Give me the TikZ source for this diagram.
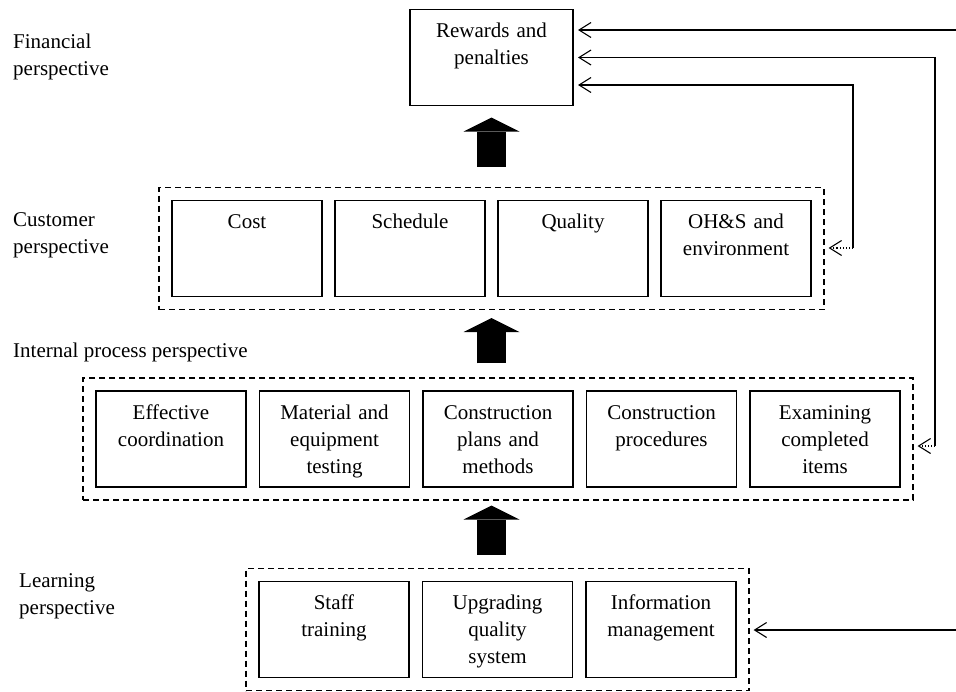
\documentclass[tikz,border=0pt]{standalone}
\usepackage{fontspec}
\setmainfont{Liberation Serif}
\usetikzlibrary{arrows.meta,positioning,fit}

\begin{document}
\begin{tikzpicture}[
  x=1pt, y=-1pt,
  font=\fontsize{21}{27}\selectfont,
  box/.style={draw, line width=1.6pt, align=center, text width=144pt, minimum width=150pt,
    inner xsep=3pt, inner ysep=0pt, outer sep=0pt, text height=28pt, text depth=68pt},
  group/.style={draw, dash pattern=on 6pt off 4pt, line width=1.2pt, inner sep=13pt},
  side/.style={align=left, inner sep=0pt, anchor=west},
  link/.style={line width=1.1pt, -{Straight Barb[length=12pt, width=15pt]}},
  fat/.style={line width=29pt, -{Triangle[length=14pt, width=56pt, line width=0pt]}}
]
\useasboundingbox (0,0) rectangle (956,691);

% side labels
\node[side] (fin) at (13,57) {Financial\\perspective};
\node[side] (cust) at (13,235) {Customer\\perspective};
\node[side] (int) at (13,352) {Internal process perspective};
\node[side] (learn) at (19,596) {Learning\\perspective};

% financial
\node[box, text width=157pt] (reward) at (491.5,57.5) {Rewards and\\penalties};

% customer
\node[box] (cost) at (247,248.5) {Cost};
\node[box, right=13pt of cost] (schedule) {Schedule};
\node[box, right=13pt of schedule] (quality) {Quality};
\node[box, right=13pt of quality] (ohs) {OH\&S and\\environment};

% internal process
\node[box] (coord) at (171,439) {Effective\\coordination};
\node[box, right=13.5pt of coord] (testing) {Material and\\equipment\\testing};
\node[box, right=13.5pt of testing] (plans) {Construction\\plans and\\methods};
\node[box, right=13.5pt of plans] (procs) {Construction\\procedures};
\node[box, right=13.5pt of procs] (exam) {Examining\\completed\\items};

% learning
\node[box] (staff) at (334,629.5) {Staff\\training};
\node[box, right=13.5pt of staff] (upgrade) {Upgrading\\quality\\system};
\node[box, right=13.5pt of upgrade] (info) {Information\\management};

\node[group, fit=(cost)(ohs)] (custbox) {};
\node[group, fit=(coord)(exam)] (intbox) {};
\node[group, fit=(staff)(info)] (learnbox) {};

% block arrows
\draw[fat, shorten <=20pt, shorten >=12pt] (custbox.north -| reward.south) -- (reward.south);
\draw[fat, shorten <=14pt, shorten >=8pt] (intbox.north -| reward.south) -- (custbox.south -| reward.south);
\draw[fat, shorten <=13pt, shorten >=5pt] (learnbox.north -| reward.south) -- (intbox.south -| reward.south);

% feedback lines
\coordinate (east1) at (956,30);
\coordinate (bend2) at (935,446);
\coordinate (bend3) at (853,248);
\coordinate (east4) at (956,630);

\draw[link, shorten >=5pt] (east1) -- (east1 -| reward.east);
\draw[link, shorten >=5pt] (bend2) |- (reward.east);
\draw[link, shorten >=5pt] (bend3) |- ([yshift=-27.5pt]reward.east);
\draw[link, dotted, shorten >=4pt] (bend2) -- (bend2 -| intbox.east);
\draw[link, dotted, shorten >=4pt] (bend3) -- (bend3 -| custbox.east);
\draw[link, shorten >=4pt] (east4) -- (east4 -| learnbox.east);
\end{tikzpicture}
\end{document}
